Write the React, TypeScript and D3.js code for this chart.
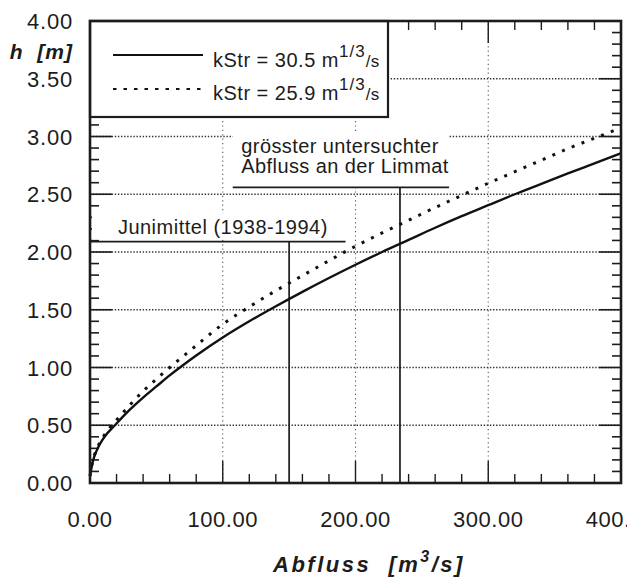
import React from 'react';
import * as d3 from 'd3';

// Data
const discharge = [0, 2, 5, 10, 20, 30, 40, 50, 60, 70, 80, 100, 120, 140, 160, 180, 200, 220, 240, 260, 280, 300, 320, 340, 360, 380, 400];
const hK305 = [0.06, 0.18, 0.28, 0.385, 0.515, 0.635, 0.74, 0.836, 0.932, 1.02, 1.104, 1.26, 1.4, 1.53, 1.655, 1.775, 1.89, 2.0, 2.105, 2.21, 2.31, 2.405, 2.5, 2.59, 2.68, 2.767, 2.855];
const hK259 = [0.06, 0.19, 0.29, 0.4, 0.545, 0.675, 0.795, 0.9, 1.0, 1.095, 1.19, 1.375, 1.525, 1.665, 1.795, 1.925, 2.05, 2.165, 2.275, 2.385, 2.49, 2.595, 2.695, 2.795, 2.895, 2.985, 3.075];

const xTickValues = [0, 100, 200, 300, 400];
const yTickValues = [0, 0.5, 1, 1.5, 2, 2.5, 3, 3.5, 4];
const legendLabels = ['kStr = 30.5 m', 'kStr = 25.9 m'];

// Annotations: Junimittel (Q=150) and largest investigated discharge (Q≈233.5)
const annJuni = { q: 150, lineH: 2.09, fromQ: 0, toQ: 192.5, textQ: 21, textH: [2.16], lines: ['Junimittel (1938-1994)'] };
const annMax = { q: 233.5, lineH: 2.56, fromQ: 107.5, toQ: 270.5, textQ: 114, textH: [2.857, 2.684], lines: ['grösster untersuchter', 'Abfluss an der Limmat'] };

const W = 627;
const H = 578;
const FONT = '"Liberation Sans", Arial, Helvetica, sans-serif';

export default function App() {
  const x = d3.scaleLinear().domain([0, 400]).range([90, 621]);
  const y = d3.scaleLinear().domain([0, 4]).range([483, 21]);
  const [x0, x1] = x.range();
  const [y0, y1] = y.range(); // y0 bottom, y1 top

  const line = d3
    .line<number>()
    .x((_, i) => x(discharge[i]))
    .y((d) => y(d))
    .curve(d3.curveMonotoneX);

  const yMinor = d3.range(0, 41).map((i) => i / 10);
  const xMinor = d3.range(0, 21).map((i) => i * 20);
  const isMajorY = (v: number) => Math.abs(v * 2 - Math.round(v * 2)) < 1e-6;
  const isMajorX = (v: number) => v % 100 === 0;

  const fmt = d3.format('.2f');

  const legendBox = { x: 90, y: 21, w: 298, h: 96 };
  const ink = '#1c1c1c';

  return (
    <svg
      width={W}
      height={H}
      style={{ position: 'absolute', left: 0, top: 0, background: '#fff' }}
      fontFamily={FONT}
    >
      <rect x={0} y={0} width={W} height={H} fill="#fff" />
      {/* gridlines */}
      {yTickValues
        .filter((v) => v > 0 && v < 4)
        .map((v) => (
          <line key={'gy' + v} x1={x0} x2={x1} y1={y(v)} y2={y(v)} stroke="#333" strokeWidth={1.4} strokeDasharray="1.4,1.7" />
        ))}
      {xTickValues
        .filter((v) => v > 0 && v < 400)
        .map((v) => (
          <line key={'gx' + v} x1={x(v)} x2={x(v)} y1={y0} y2={y1} stroke="#555" strokeWidth={1.1} strokeDasharray="1.2,3.2" />
        ))}

      {/* ticks */}
      {yMinor.map((v) => {
        const len = isMajorY(v) ? 22 : 9;
        return (
          <g key={'ty' + v}>
            <line x1={x0} x2={x0 + len} y1={y(v)} y2={y(v)} stroke={ink} strokeWidth={1.6} />
            <line x1={x1} x2={x1 - len} y1={y(v)} y2={y(v)} stroke={ink} strokeWidth={1.6} />
          </g>
        );
      })}
      {xMinor.map((v) => {
        const len = isMajorX(v) ? 22 : 9;
        return (
          <g key={'tx' + v}>
            <line x1={x(v)} x2={x(v)} y1={y0} y2={y0 - len} stroke={ink} strokeWidth={1.4} />
            <line x1={x(v)} x2={x(v)} y1={y1} y2={y1 + len} stroke={ink} strokeWidth={1.4} />
          </g>
        );
      })}

      {/* annotations */}
      {[annJuni, annMax].map((a, k) => {
        const ly = y(a.lineH);
        const top = y(a.textH[0]) - 20;
        return (
          <g key={'ann' + k}>
            <rect x={x(a.fromQ) + (k === 0 ? 2 : 0)} y={top} width={x(a.toQ) - x(a.fromQ) - (k === 0 ? 2 : 0)} height={ly - top - 2} fill="#fff" />
            <line x1={x(a.fromQ)} x2={x(a.toQ)} y1={ly} y2={ly} stroke={ink} strokeWidth={1.7} />
            <line x1={x(a.q)} x2={x(a.q)} y1={ly} y2={y0} stroke={ink} strokeWidth={1.7} />
            {a.lines.map((t, i) => (
              <text key={i} x={x(a.textQ)} y={y(a.textH[i])} fontSize={20} letterSpacing={k === 0 ? 0.5 : 0.4} fill={ink}>
                {t}
              </text>
            ))}
          </g>
        );
      })}

      {/* curves */}
      <path d={line(hK305) || ''} fill="none" stroke="#111" strokeWidth={2.4} />
      <path d={line(hK259) || ''} fill="none" stroke="#111" strokeWidth={3} strokeDasharray="3,7.5" />

      {/* legend */}
      <rect x={legendBox.x} y={legendBox.y} width={legendBox.w} height={legendBox.h} fill="#fff" stroke={ink} strokeWidth={2.2} />
      <line x1={113} x2={203} y1={55} y2={55} stroke="#111" strokeWidth={2} />
      <line x1={113} x2={203} y1={89} y2={89} stroke="#111" strokeWidth={2} strokeDasharray="3.5,7" />
      {legendLabels.map((t, i) => (
        <text key={'lg' + i} x={213} y={67 + i * 32.5} fontSize={20} letterSpacing={0.5} fill={ink}>
          {t}
          <tspan fontSize={17} dy={-10} letterSpacing={1}>1/3</tspan>
          <tspan fontSize={17} dy={10} letterSpacing={0.5}>/s</tspan>
        </text>
      ))}

      {/* frame */}
      <rect x={x0} y={y1} width={x1 - x0} height={y0 - y1} fill="none" stroke={ink} strokeWidth={2.6} />

      {/* tick labels */}
      {yTickValues.map((v) => (
        <text key={'ly' + v} x={73} y={y(v) + 8} fontSize={22} letterSpacing={0.8} textAnchor="end" fill={ink}>
          {fmt(v)}
        </text>
      ))}
      {xTickValues.map((v) => (
        <text key={'lx' + v} x={x(v)} y={527} fontSize={22} letterSpacing={0.5} textAnchor="middle" fill={ink}>
          {fmt(v)}
        </text>
      ))}

      {/* axis titles */}
      <text x={73} y={59} fontSize={21} fontWeight="bold" fontStyle="italic" textAnchor="end" letterSpacing={1} fill={ink} xmlSpace="preserve">
        {'h  [m]'}
      </text>
      <text x={273} y={572} fontSize={22} fontWeight="bold" fontStyle="italic" letterSpacing={2.5} fill={ink} xmlSpace="preserve">
        {'Abfluss  [m'}
        <tspan fontSize={16} dy={-10}>3</tspan>
        <tspan dy={10}>{'/s]'}</tspan>
      </text>
    </svg>
  );
}
